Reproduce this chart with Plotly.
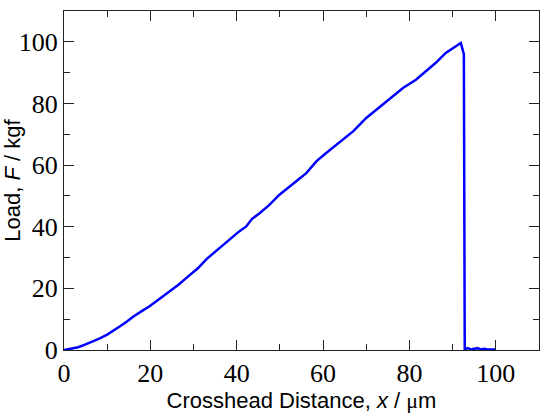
import plotly.graph_objects as go

# Crosshead distance (um) and load (kgf)
x_um = [0, 1, 2, 3.3, 5, 6.5, 8.3, 10, 11.5, 12.9, 14.5, 16, 18, 19.9, 22, 24.5,
        26.5, 28.7, 31, 33, 35, 37, 39, 40.5, 42.2, 43.5, 45.3, 47.5, 49.9, 52,
        54, 56.1, 58.5, 60.5, 62.5, 64.6, 67, 70, 73, 76.1, 78.5, 81.5, 84, 86.1,
        88.4, 90, 91.2, 91.9, 92.6, 92.8, 93.5, 94.2, 95.0, 95.8, 96.5, 97.3,
        98.1, 99.0, 100]
load_kgf = [0, 0.2, 0.5, 0.9, 1.8, 2.6, 3.8, 5.0, 6.3, 7.6, 9.2, 10.8, 12.6, 14.3,
            16.5, 19.0, 21.2, 23.8, 26.5, 29.5, 31.9, 34.4, 36.8, 38.4, 40.1, 42.5,
            44.4, 47.0, 50.4, 52.9, 55.0, 57.4, 61.3, 63.7, 66.0, 68.2, 71.0, 75.3,
            78.8, 82.3, 85.0, 87.7, 90.8, 93.2, 96.4, 98.0, 99.0, 99.6, 96.0, 0.2,
            0.6, 0.2, 0.4, 0.6, 0.2, 0.4, 0.2, 0.3, 0.2]

x_ticks = [0, 20, 40, 60, 80, 100]
y_ticks = [0, 20, 40, 60, 80, 100]

fig = go.Figure(go.Scatter(x=x_um, y=load_kgf, mode="lines",
                           line=dict(color="#0000ff", width=2.5)))

axis_common = dict(
    showline=True, linecolor="#222", linewidth=1.3, mirror="ticks",
    ticks="inside", ticklen=10, tickwidth=1.3, tickcolor="#222",
    minor=dict(ticks="inside", ticklen=6, tickwidth=1.3, tickcolor="#222", dtick=10),
    showgrid=False, zeroline=False,
    tickfont=dict(family="Liberation Serif", size=26, color="black"),
)

fig.update_xaxes(range=[0, 110], tickvals=x_ticks, **axis_common,
                 title=dict(text="Crosshead Distance, <i>x</i> / <span style=\"font-family:'Liberation Serif'\">μ</span>m",
                            font=dict(family="Liberation Sans", size=22, color="black"),
                            standoff=4))
fig.update_yaxes(range=[0, 110], tickvals=y_ticks, **axis_common,
                 title=dict(text="Load, <i>F</i> / kgf",
                            font=dict(family="Liberation Sans", size=22, color="black"),
                            standoff=2))

fig.update_layout(width=540, height=415, margin=dict(l=64, r=1, t=11, b=65),
                  plot_bgcolor="white", paper_bgcolor="white", showlegend=False)

fig.write_html("out.html", config={"displayModeBar": False},
               post_script="document.body.style.margin='0';document.body.style.overflow='hidden';")
